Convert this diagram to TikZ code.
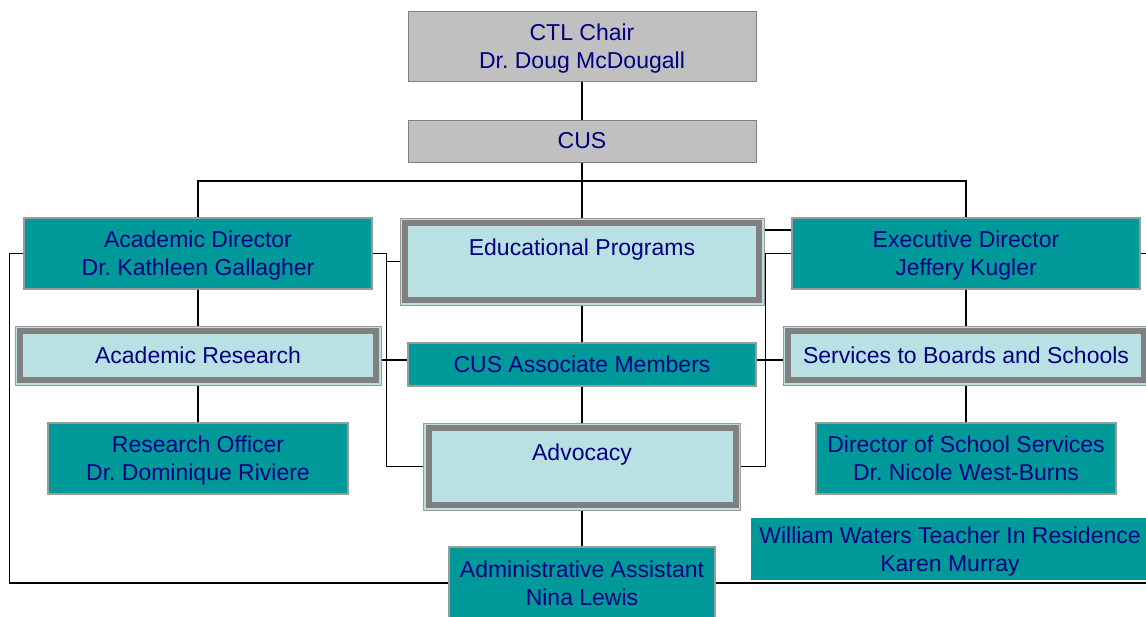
\documentclass[tikz,border=0pt]{standalone}
\usepackage{fontspec}
\setmainfont{Liberation Sans}
\frenchspacing

\definecolor{navy}{RGB}{0,0,128}
\definecolor{chartteal}{RGB}{0,153,153}
\definecolor{chartgray}{RGB}{192,192,192}
\definecolor{framegray}{RGB}{128,128,128}
\definecolor{edgegray}{RGB}{155,155,155}
\definecolor{paleblue}{RGB}{185,224,227}

\begin{document}
\begin{tikzpicture}[x=1pt,y=-1pt,
  font=\fontsize{23}{28}\selectfont,text=navy,
  greybox/.style={draw=framegray,fill=chartgray,line width=1pt,inner sep=0pt,align=center},
  tealbox/.style={draw=edgegray,fill=chartteal,line width=1.2pt,inner sep=0pt,align=center},
  framebox/.style={draw=edgegray,fill=paleblue,line width=1pt,inner sep=0pt,align=center},
  twoline/.style={text height=44.6pt,text depth=0pt},
  toptext/.style={text height=16pt,text depth=28.6pt},
  band/.style={draw=framegray,line width=6pt},
  link/.style={draw=black,line width=1.2pt}]
  \useasboundingbox (0,0) rectangle (1146,616);
  \clip (0,0) rectangle (1146,616);
  \fill[white] (0,0) rectangle (1146,616);
  \coordinate (edge) at (1170,0);
  \coordinate (bus) at (582,181);

  % top
  \node[greybox,twoline,minimum width=348pt,minimum height=70pt] (chair) at (582,46) {CTL Chair\\Dr. Doug McDougall};
  \node[greybox,minimum width=348pt,minimum height=42pt] (cus) at (582,141) {CUS};

  % second row
  \node[tealbox,twoline,minimum width=348pt,minimum height=71pt] (acad) at (198,253.5) {Academic Director\\Dr. Kathleen Gallagher};
  \node[framebox,toptext,minimum width=364pt,minimum height=87pt] (ep) at (582,261.5) {Educational Programs};
  \node[tealbox,twoline,minimum width=348pt,minimum height=71pt] (exec) at (966,253.5) {Executive Director\\Jeffery Kugler};

  % third row
  \node[framebox,minimum width=366pt,minimum height=59pt] (ar) at (198,355.5) {Academic Research};
  \node[tealbox,minimum width=348pt,minimum height=43pt] (assoc) at (582,364.5) {CUS Associate Members};
  \node[framebox,minimum width=366pt,minimum height=59pt] (sbs) at (966,355.5) {Services to Boards and Schools};

  % fourth row
  \node[tealbox,twoline,minimum width=300pt,minimum height=71pt] (ro) at (198,458.5) {Research Officer\\Dr. Dominique Riviere};
  \node[framebox,toptext,minimum width=317pt,minimum height=87pt] (adv) at (582,466.5) {Advocacy};
  \node[tealbox,twoline,minimum width=300pt,minimum height=71pt] (dss) at (966,458.5) {Director of School Services\\Dr. Nicole West-Burns};

  % bottom
  \node[tealbox,twoline,draw=none,minimum width=398pt,minimum height=62pt] (ww) at (950,549) {William Waters Teacher In Residence\\Karen Murray};
  \node[tealbox,twoline,minimum width=266pt,minimum height=72pt] (aa) at (582,583) {Administrative Assistant\\Nina Lewis};

  % thick inner frames
  \foreach \n in {ep,ar,sbs,adv}
    \draw[band] ([xshift=5.5pt,yshift=-5.5pt]\n.north west) rectangle ([xshift=-5.5pt,yshift=5.5pt]\n.south east);

  % tree lines
  \draw[link] (chair.south) -- (cus.north);
  \draw[link] (cus.south) -- (ep.north);
  \draw[link] (acad.north) |- (bus) -| (exec.north);
  \draw[link] (acad.south) -- (ar.north);
  \draw[link] (ar.south) -- (ro.north);
  \draw[link] (exec.south) -- (sbs.north);
  \draw[link] (sbs.south) -- (dss.north);
  \draw[link] (ep.south) -- (assoc.north);
  \draw[link] (assoc.south) -- (adv.north);
  \draw[link] (adv.south) -- (aa.north);

  % brackets
  \draw[link] (acad.east) -- ++(14,0) |- (adv.west);
  \draw[link] (ep.west) -- ++(-14,0);
  \draw[link] ([yshift=-4.5pt]ar.east) -- ([yshift=4.5pt]assoc.west);
  \draw[link] (exec.west) -- ++(-26,0) |- (adv.east);
  \draw[link] ([yshift=31.5pt]ep.east) -- ([yshift=23.5pt]exec.west);
  \draw[link] ([yshift=-4.5pt]sbs.west) -- ([yshift=4.5pt]assoc.east);

  % outer loop
  \draw[link] (acad.west) -- ++(-14,0) |- (aa.west);
  \draw[link] (aa.east) -- (aa.east -| edge);
  \draw[link] (exec.east) -- (exec.east -| edge);
\end{tikzpicture}
\end{document}
